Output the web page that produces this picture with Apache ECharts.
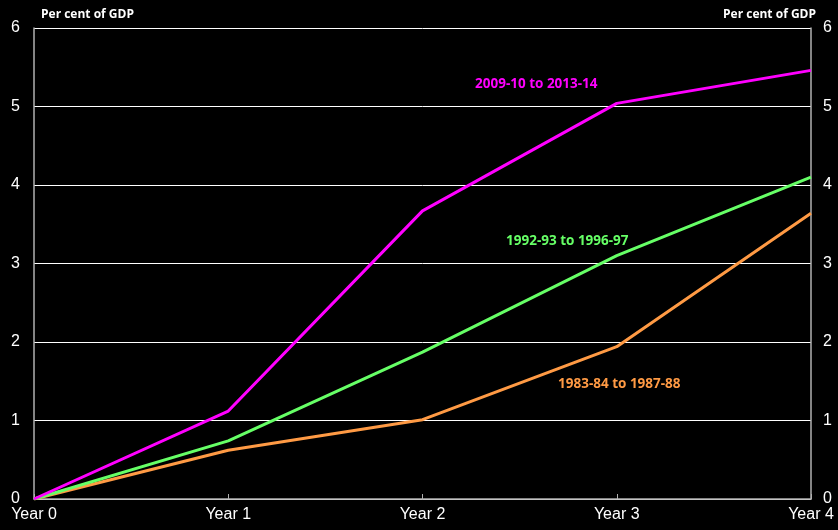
<!DOCTYPE html>
<html>
<head>
<meta charset="utf-8">
<script src="https://cdn.jsdelivr.net/npm/echarts@6/dist/echarts.min.js"></script>
<style>
  html, body { margin: 0; padding: 0; background: #000; }
  #main { width: 838px; height: 530px; }
</style>
</head>
<body>
<div id="main"></div>
<script>
var years = ['Year 0', 'Year 1', 'Year 2', 'Year 3', 'Year 4'];
var yTicks = [0, 1, 2, 3, 4, 5, 6];
var recent = [0, 1.12, 3.67, 5.04, 5.46];      // 2009-10 to 2013-14
var nineties = [0, 0.74, 1.87, 3.10, 4.10];    // 1992-93 to 1996-97
var eighties = [0, 0.62, 1.01, 1.94, 3.64];    // 1983-84 to 1987-88

var chart = echarts.init(document.getElementById('main'));

var labelFont = '"Open Sans", sans-serif';
var yAxisBase = {
  type: 'value',
  min: yTicks[0],
  max: yTicks[yTicks.length - 1],
  interval: 1,
  axisLine: { show: true, lineStyle: { color: '#b0b0b0', width: 1.5 } },
  axisTick: { show: false },
  splitLine: { show: true, lineStyle: { color: '#ffffff', width: 1 } },
  axisLabel: { color: '#ffffff', fontSize: 16, fontFamily: 'Liberation Sans, Arial', margin: 14 }
};

chart.setOption({
  backgroundColor: '#000000',
  animation: false,
  grid: { left: 34, right: 27, top: 28, bottom: 31, containLabel: false },
  xAxis: {
    type: 'category',
    data: years,
    boundaryGap: false,
    axisLine: { lineStyle: { color: '#b0b0b0', width: 1.5 } },
    axisTick: { show: true, inside: true, length: 5, lineStyle: { color: '#b0b0b0' } },
    axisLabel: { color: '#ffffff', fontSize: 16, fontFamily: 'Liberation Sans, Arial', margin: 8 }
  },
  yAxis: [
    Object.assign({}, yAxisBase, { position: 'left' }),
    Object.assign({}, yAxisBase, { position: 'right', splitLine: { show: false }, axisLabel: Object.assign({}, yAxisBase.axisLabel, { margin: 12 }) })
  ],
  series: [
    {
      name: '1983-84 to 1987-88', type: 'line', data: eighties, symbol: 'none',
      lineStyle: { color: '#ff9a44', width: 3 }
    },
    {
      name: '1992-93 to 1996-97', type: 'line', data: nineties, symbol: 'none',
      lineStyle: { color: '#66ff66', width: 3 }
    },
    {
      name: '2009-10 to 2013-14', type: 'line', data: recent, symbol: 'none',
      lineStyle: { color: '#ff00ff', width: 3 }
    }
  ],
  graphic: [
    { type: 'text', left: 41, top: 9, style: { text: 'Per cent of GDP', fill: '#fff', font: 'bold 12px ' + labelFont } },
    { type: 'text', right: 22, top: 9, style: { text: 'Per cent of GDP', fill: '#fff', font: 'bold 12px ' + labelFont } },
    { type: 'text', left: 475, top: 77, style: { text: '2009-10 to 2013-14', fill: '#ff00ff', font: 'bold 13.5px ' + labelFont } },
    { type: 'text', left: 506, top: 234, style: { text: '1992-93 to 1996-97', fill: '#66ff66', font: 'bold 13.5px ' + labelFont } },
    { type: 'text', left: 558, top: 377, style: { text: '1983-84 to 1987-88', fill: '#ff9a44', font: 'bold 13.5px ' + labelFont } }
  ]
});
</script>
</body>
</html>
